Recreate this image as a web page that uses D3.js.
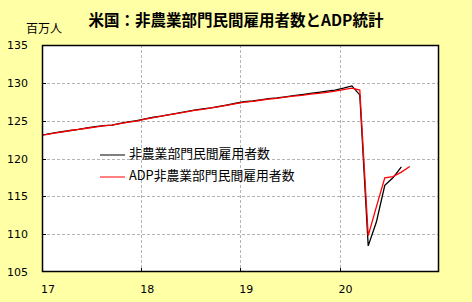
<!DOCTYPE html>
<html>
<head>
<meta charset="utf-8">
<script src="https://cdn.jsdelivr.net/npm/d3@7"></script>
<style>
  body { margin: 0; background: #ffffa6; }
  svg { display: block; }
</style>
</head>
<body>
<svg id="chart" width="472" height="302"></svg>
<script>
// monthly values, millions, starting Dec 2016 (first point is clipped at the frame)
var startMonth = [2016, 11];
var nfpPrivate = [
  123.05,
  123.2, 123.4, 123.55, 123.7, 123.85, 124.05, 124.2, 124.35, 124.4, 124.65, 124.85, 125.0,
  125.25, 125.45, 125.6, 125.8, 126.0, 126.2, 126.4, 126.55, 126.7, 126.9, 127.1, 127.3,
  127.5, 127.6, 127.75, 127.9, 128.0, 128.15, 128.3, 128.45, 128.6, 128.75, 128.9, 129.05,
  129.3, 129.6, 128.4, 108.45, 111.6, 116.45, 117.45, 118.9
];
var adpPrivate = [
  123.0,
  123.15, 123.35, 123.5, 123.7, 123.85, 124.0, 124.15, 124.3, 124.4, 124.6, 124.8, 124.95,
  125.2, 125.4, 125.6, 125.8, 125.95, 126.15, 126.35, 126.5, 126.7, 126.85, 127.05, 127.25,
  127.45, 127.55, 127.7, 127.85, 127.95, 128.1, 128.25, 128.35, 128.5, 128.6, 128.75, 128.9,
  129.1, 129.3, 129.05, 109.8, 113.6, 117.45, 117.6, 118.2, 118.95
];
var yTicks = [105, 110, 115, 120, 125, 130, 135];
var xTicks = [2017, 2018, 2019, 2020];
var seriesNames = ["非農業部門民間雇用者数", "ADP非農業部門民間雇用者数"];
var seriesColors = ["#000000", "#ff0000"];

var svg = d3.select("#chart");
var plot = {left: 42, right: 439, top: 45, bottom: 272};

// mid-month dates
function monthDate(i) {
  return new Date(startMonth[0], startMonth[1] + i, 15, 12);
}

var x = d3.scaleTime()
  .domain([new Date(2017, 0, 1), new Date(2021, 0, 1)])
  .range([plot.left, plot.right]);
var y = d3.scaleLinear().domain([105, 135]).range([plot.bottom, plot.top]);

svg.append("rect")
  .attr("x", plot.left).attr("y", plot.top)
  .attr("width", plot.right - plot.left).attr("height", plot.bottom - plot.top)
  .attr("fill", "#fff");

svg.append("clipPath").attr("id", "clip").append("rect")
  .attr("x", plot.left).attr("y", plot.top)
  .attr("width", plot.right - plot.left).attr("height", plot.bottom - plot.top);

// gridlines
svg.append("g").selectAll("line").data(yTicks.slice(1, -1)).join("line")
  .attr("x1", plot.left).attr("x2", plot.right)
  .attr("y1", d => Math.round(y(d)) + 0.5).attr("y2", d => Math.round(y(d)) + 0.5)
  .attr("stroke", "#b4b4b4").attr("stroke-dasharray", "3,2");
svg.append("g").selectAll("line").data(xTicks.slice(1)).join("line")
  .attr("x1", d => Math.round(x(new Date(d, 0, 1))) + 0.5)
  .attr("x2", d => Math.round(x(new Date(d, 0, 1))) + 0.5)
  .attr("y1", plot.top).attr("y2", plot.bottom)
  .attr("stroke", "#b4b4b4").attr("stroke-dasharray", "3,2");

// inner tick marks
svg.append("g").selectAll("line").data(yTicks.slice(1, -1)).join("line")
  .attr("x1", plot.left).attr("x2", plot.left + 4)
  .attr("y1", d => Math.round(y(d)) + 0.5).attr("y2", d => Math.round(y(d)) + 0.5)
  .attr("stroke", "#000");
svg.append("g").selectAll("line").data(xTicks.slice(1)).join("line")
  .attr("x1", d => Math.round(x(new Date(d, 0, 1))) + 0.5)
  .attr("x2", d => Math.round(x(new Date(d, 0, 1))) + 0.5)
  .attr("y1", plot.bottom - 4).attr("y2", plot.bottom)
  .attr("stroke", "#000");

// lines
var line = d3.line()
  .x((d, i) => x(monthDate(i)))
  .y(d => y(d));
var lines = svg.append("g").attr("clip-path", "url(#clip)");
[nfpPrivate, adpPrivate].forEach(function(s, k) {
  lines.append("path")
    .attr("d", line(s))
    .attr("fill", "none")
    .attr("stroke", seriesColors[k])
    .attr("stroke-width", 1.3);
});

// frame
svg.append("rect")
  .attr("x", plot.left + 0.5).attr("y", plot.top + 0.5)
  .attr("width", plot.right - plot.left - 1).attr("height", plot.bottom - plot.top - 1)
  .attr("fill", "none").attr("stroke", "#000").attr("stroke-width", 1.5);

// axis labels
var numFont = "'DejaVu Sans', Verdana, sans-serif";
svg.append("g").selectAll("text").data(yTicks).join("text")
  .attr("x", 28).attr("y", d => y(d) + 1)
  .attr("text-anchor", "end").attr("dominant-baseline", "middle")
  .attr("font-family", numFont).attr("font-size", 11).attr("fill", "#000")
  .text(d => d);
svg.append("g").selectAll("text").data(xTicks).join("text")
  .attr("x", d => x(new Date(d, 0, 1)) - 1).attr("y", 293)
  .attr("font-family", numFont).attr("font-size", 11).attr("fill", "#000")
  .text(d => String(d).slice(2));

var jpFont = "'Noto Sans CJK JP', sans-serif";
svg.append("text")
  .attr("x", 236).attr("y", 26).attr("text-anchor", "middle")
  .attr("font-family", jpFont).attr("font-size", 15.5).attr("font-weight", "bold")
  .text("米国：非農業部門民間雇用者数とADP統計");
svg.append("text")
  .attr("x", 26).attr("y", 33)
  .attr("font-family", jpFont).attr("font-size", 12)
  .text("百万人");

// legend
var legend = svg.append("g").selectAll("g").data(seriesNames).join("g")
  .attr("transform", (d, i) => "translate(100," + (155 + i * 22) + ")");
legend.append("line")
  .attr("x1", 0).attr("x2", 25)
  .attr("stroke", (d, i) => seriesColors[i]).attr("stroke-width", 1);
legend.append("text")
  .attr("x", 29).attr("y", 0).attr("dominant-baseline", "middle")
  .attr("font-family", jpFont).attr("font-size", 12.8)
  .text(d => d);
</script>
</body>
</html>
